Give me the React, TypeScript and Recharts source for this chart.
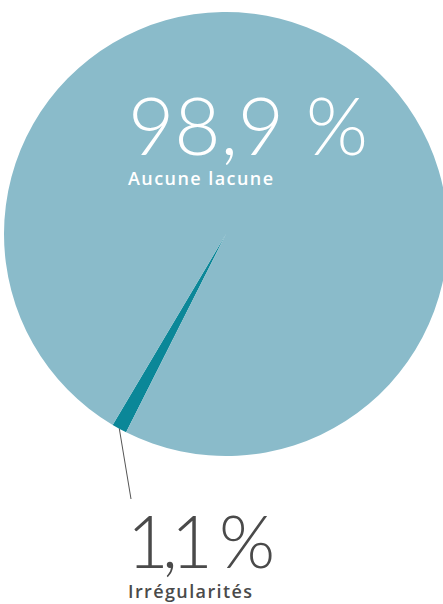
import { PieChart, Pie, Cell } from 'recharts'

const categories = ['Irrégularités', 'Aucune lacune']
const values = [1.1, 98.9]
const valueLabels = ['1,1 %', '98,9 %']
const colors = ['#0B8798', '#8ABBCA']

const data = categories.map((name, i) => ({ name, value: values[i] }))

const RAD = Math.PI / 180

function renderLabel(props: any) {
  const { cx, cy, midAngle, outerRadius, index } = props
  if (index === 0) {
    const sx = cx + outerRadius * Math.cos(-midAngle * RAD)
    const sy = cy + outerRadius * Math.sin(-midAngle * RAD)
    const ex = cx - 95
    const ey = cy + 265
    return (
      <g>
        <line x1={sx} y1={sy} x2={ex} y2={ey} stroke="#555" strokeWidth={1} />
        <text x={cx - 99} y={cy + 334} fill="#4a4a4a" fontSize={72} fontWeight={300} fontFamily="Lato"
          textAnchor="start" textLength={148} lengthAdjust="spacing">
          {valueLabels[0]}
        </text>
        <text x={cx - 98} y={cy + 364} fill="#4a4a4a" fontSize={18} fontWeight={600} fontFamily="Open Sans"
          textAnchor="start" textLength={124} lengthAdjust="spacing">
          {categories[0]}
        </text>
      </g>
    )
  }
  return (
    <g>
      <text x={cx - 98} y={cy - 79} fill="#fff" fontSize={80} fontWeight={300} fontFamily="Lato"
        textAnchor="start" textLength={240} lengthAdjust="spacing">
        {valueLabels[1]}
      </text>
      <text x={cx - 98} y={cy - 49} fill="#fff" fontSize={18} fontWeight={600} fontFamily="Open Sans"
        textAnchor="start" textLength={145} lengthAdjust="spacing">
        {categories[1]}
      </text>
    </g>
  )
}

export default function App() {
  return (
    <div style={{ position: 'absolute', left: 0, top: 0, width: 443, height: 604, background: '#fff' }}>
      <PieChart width={443} height={604} margin={{ top: 0, right: 0, bottom: 0, left: 0 }}>
        <Pie
          data={data}
          dataKey="value"
          cx={226}
          cy={234}
          outerRadius={222}
          startAngle={239.3}
          endAngle={599.3}
          stroke="none"
          label={renderLabel}
          labelLine={false}
          isAnimationActive={false}
        >
          {data.map((d, i) => (
            <Cell key={d.name} fill={colors[i]} />
          ))}
        </Pie>
      </PieChart>
    </div>
  )
}
